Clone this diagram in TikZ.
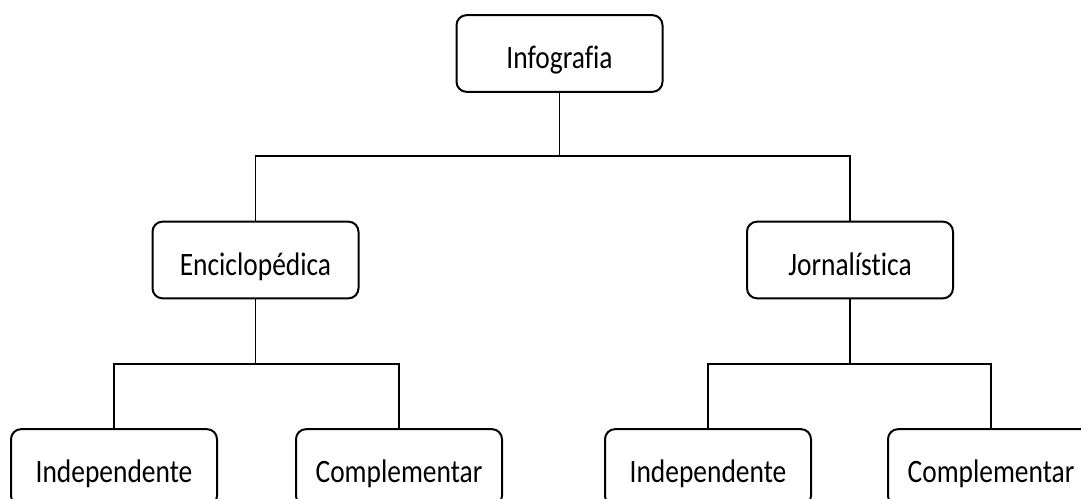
\documentclass[tikz,border=0pt]{standalone}
\usepackage{fontspec}
\setmainfont{Carlito}[FakeStretch=0.84, Ligatures={NoCommon}]
\tikzset{
  catbox/.style={draw, rounded corners=7.5pt, line width=1.5pt,
    minimum width=154.5pt, minimum height=57.5pt, inner sep=0pt,
    text height=23pt, text depth=0pt, font=\fontsize{24.5}{28}\selectfont},
  branch/.style={line width=1.4pt}
}
\begin{document}
\begin{tikzpicture}[x=0.75pt,y=-0.75pt]
      \path[use as bounding box, clip] (0,0) rectangle (1081,499);
      \fill[white] (0,0) rectangle (1081,499);
      \draw
        (559.5,53.5) node[catbox] (info){Infografia}
        (255.5,260) node[catbox] (enc){Enciclopédica}
        (850,260) node[catbox] (jor){Jornalística}
        (114,467.5) node[catbox] (encind){Independente}
        (399,467.5) node[catbox] (enccomp){Complementar}
        (708,467.5) node[catbox] (jorind){Independente}
        (991,467.5) node[catbox] (jorcomp){Complementar};
      \begin{scope}[branch]
        \draw (info.south) -- ++(0,63) -| (enc.north);
        \draw (info.south) -- ++(0,63) -| (jor.north);
        \draw (enc.south) -- ++(0,65) -| (encind.north);
        \draw (enc.south) -- ++(0,65) -| (enccomp.north);
        \draw (jor.south) -- ++(0,65) -| (jorind.north);
        \draw (jor.south) -- ++(0,65) -| (jorcomp.north);
      \end{scope}
    \end{tikzpicture}
\end{document}
